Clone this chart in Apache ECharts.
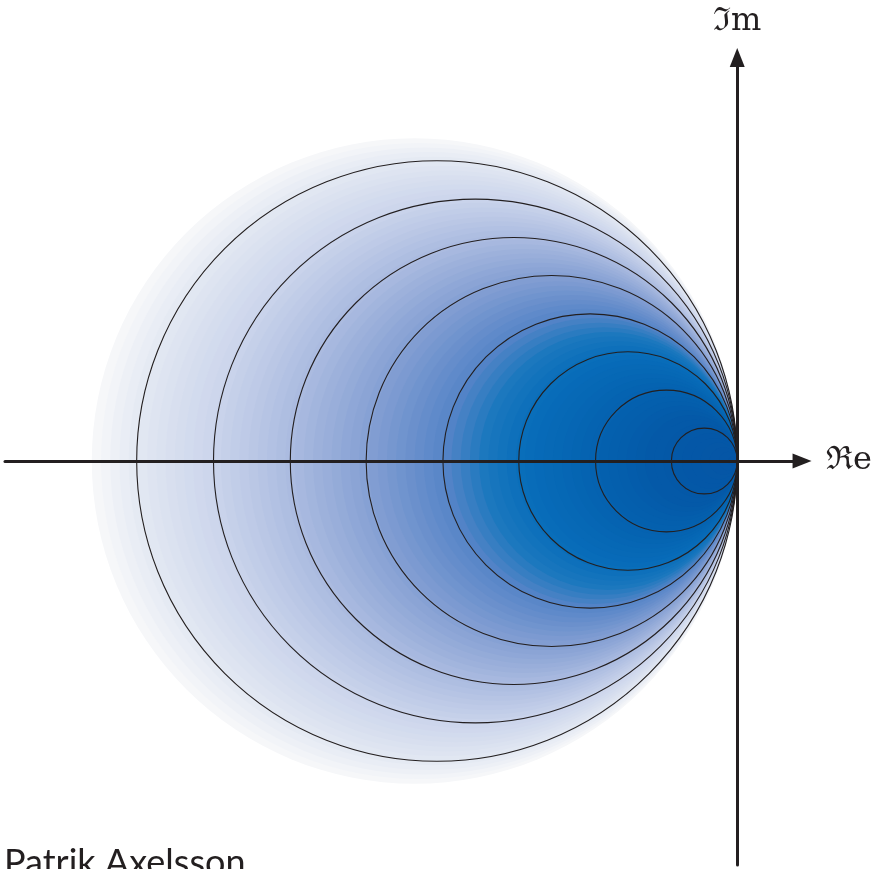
<!DOCTYPE html>
<html>
<head>
<meta charset="utf-8">
<script src="https://cdn.jsdelivr.net/npm/echarts@6/dist/echarts.min.js"></script>
<style>html,body{margin:0;padding:0;background:#fff;}#c{width:875px;height:869px;}</style>
</head>
<body>
<div id="c"></div>
<script>
// Diameters (in axis units) of the black level circles, all tangent at the origin
const contourDiameters = [0.66, 1.42, 2.19, 2.95, 3.72, 4.48, 5.25, 6.02];
// Diameter of the shaded disc (also tangent at the origin)
const shadeDiameter = [6.47];
// Shading colour stops: [fraction of shadeDiameter, colour]
const shadeStops = [
  [1.00, '#f6f7f9'],
  [0.93, '#e1e7f2'],
  [0.83, '#cdd6ec'],
  [0.69, '#a8b9df'],
  [0.57, '#819dd2'],
  [0.46, '#5584c7'],
  [0.40, '#1c78be'],
  [0.34, '#086dba'],
  [0.21, '#0460ae'],
  [0.14, '#0459a8'],
  [0.00, '#0555a5']
];
const axisNames = ['ℜe', 'ℑm'];
const author = 'Patrik Axelsson';

function hexToRgb(h){return [parseInt(h.substr(1,2),16),parseInt(h.substr(3,2),16),parseInt(h.substr(5,2),16)];}
function colourAt(f){
  for(let i=0;i<shadeStops.length-1;i++){
    const a=shadeStops[i], b=shadeStops[i+1];
    if(f<=a[0] && f>=b[0]){
      const t=(a[0]-f)/(a[0]-b[0]);
      const ca=hexToRgb(a[1]), cb=hexToRgb(b[1]);
      return 'rgb('+ca.map((v,k)=>Math.round(v+(cb[k]-v)*t)).join(',')+')';
    }
  }
  return shadeStops[shadeStops.length-1][1];
}

const chart = echarts.init(document.getElementById('c'), null, {renderer:'canvas'});
const axisStyle = {color:'#231f20', width:3};
chart.setOption({
  animation:false,
  grid:{left:5, right:71, top:57.5, bottom:4, containLabel:false},
  xAxis:{type:'value', z:10, min:-7.34, max:0.65, splitLine:{show:false}, axisTick:{show:false}, axisLabel:{show:false},
    axisLine:{show:true, onZero:true, lineStyle:axisStyle, symbol:['none','triangle'], symbolSize:[15,19]},
    name:axisNames[0], nameLocation:'end', nameGap:24,
    nameTextStyle:{fontFamily:'DejaVu Serif', fontSize:32, color:'#231f20', verticalAlign:'middle'}},
  yAxis:{type:'value', z:10, min:-4.04, max:4.035, splitLine:{show:false}, axisTick:{show:false}, axisLabel:{show:false},
    axisLine:{show:true, onZero:true, lineStyle:axisStyle, symbol:['none','triangle'], symbolSize:[15,19]},
    name:axisNames[1], nameLocation:'end', nameGap:20,
    nameTextStyle:{fontFamily:'DejaVu Serif', fontSize:32, color:'#231f20', align:'center'}},
  graphic:[{type:'text', left:4, top:845, style:{text:author, font:'36px Lato', fill:'#231f20'}}],
  series:[
    {type:'custom', coordinateSystem:'cartesian2d', clip:false, z:1, data:shadeDiameter.map(d=>[d]),
      renderItem:function(params, api){
        const D=api.value(0);
        const steps=70, children=[];
        for(let k=0;k<steps;k++){
          const f=1-k/steps, d=D*f;
          const c=api.coord([-d/2,0]);
          const r=api.size([d/2,0])[0];
          children.push({type:'circle', shape:{cx:c[0], cy:c[1], r:r}, style:{fill:colourAt(f)}});
        }
        return {type:'group', children:children};
      }},
    {type:'custom', coordinateSystem:'cartesian2d', clip:false, z:2, data:contourDiameters.map(d=>[d]),
      renderItem:function(params, api){
        const d=api.value(0);
        const c=api.coord([-d/2,0]);
        const r=api.size([d/2,0])[0];
        return {type:'circle', shape:{cx:c[0], cy:c[1], r:r}, style:{fill:null, stroke:'#231f20', lineWidth:1.1}};
      }}
  ]
});
</script>
</body>
</html>
